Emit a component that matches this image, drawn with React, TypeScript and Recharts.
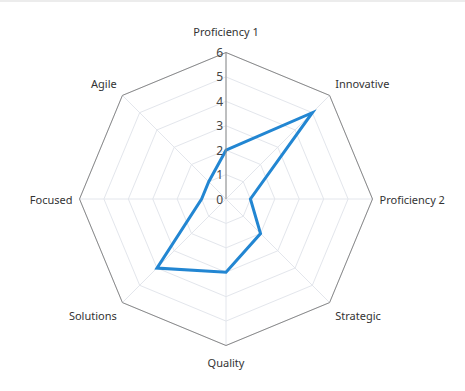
import { PolarAngleAxis, PolarGrid, PolarRadiusAxis, Radar, RadarChart } from "recharts";

const axes = ["Proficiency 1", "Innovative", "Proficiency 2", "Strategic", "Quality", "Solutions", "Focused", "Agile"];
const scores = [2, 5, 1, 2, 3, 4, 1, 1];
const radiusTicks = [0, 1, 2, 3, 4, 5, 6];

const chartData = axes.map((axis, i) => ({ axis, score: scores[i] }));

const FONT = "'Noto Sans', 'Open Sans', sans-serif";

const AngleTick = (props: any) => {
    const { x, y, payload } = props;
    const rad = (payload.coordinate * Math.PI) / 180;
    const cos = Math.cos(rad);
    const sin = Math.sin(rad);
    const anchor = cos > 0.1 ? "start" : cos < -0.1 ? "end" : "middle";
    let dy = 0;
    if (sin > 0.9) dy = -13;
    else if (sin > 0.1) dy = -6;
    else if (sin < -0.9) dy = 9;
    else if (sin < -0.1) dy = 7;
    const dx = Math.abs(cos) > 0.9 ? -1 * Math.sign(cos) : 0;
    return (
        <text
            x={x + dx}
            y={y + dy}
            textAnchor={anchor}
            dominantBaseline="central"
            fontSize={11}
            fontFamily={FONT}
            fill="#333"
        >
            {payload.value}
        </text>
    );
};

const RadiusTick = (props: any) => {
    const { x, y, payload } = props;
    return (
        <text x={x - 3} y={y} textAnchor="end" dominantBaseline="central" fontSize={12} fontFamily={FONT} fill="#444">
            {payload.value}
        </text>
    );
};

export default function App() {
    return (
        <div style={{ position: "absolute", left: 0, top: 0, width: 465, height: 391, borderTop: "2px solid #ececec", boxSizing: "border-box" }}>
            <RadarChart
                width={465}
                height={389}
                data={chartData}
                cx={226}
                cy={197}
                outerRadius={146.5}
                margin={{ top: 0, right: 0, bottom: 0, left: 0 }}
            >
                <PolarGrid gridType="polygon" stroke="#e3e6ec" />
                <PolarGrid gridType="polygon" polarRadius={[146.5]} radialLines={false} stroke="#8a8a8a" />
                <PolarAngleAxis dataKey="axis" tick={AngleTick} tickLine={false} axisLine={false} />
                <PolarRadiusAxis
                    angle={90}
                    domain={[0, 6]}
                    ticks={radiusTicks as any}
                    tickCount={7}
                    tick={RadiusTick}
                    axisLine={{ stroke: "#8a8a8a" }}
                    tickLine={false}
                />
                <Radar
                    dataKey="score"
                    stroke="#2286d2"
                    strokeWidth={3}
                    fill="none"
                    fillOpacity={0}
                    dot={false}
                    isAnimationActive={false}
                />
            </RadarChart>
        </div>
    );
}
